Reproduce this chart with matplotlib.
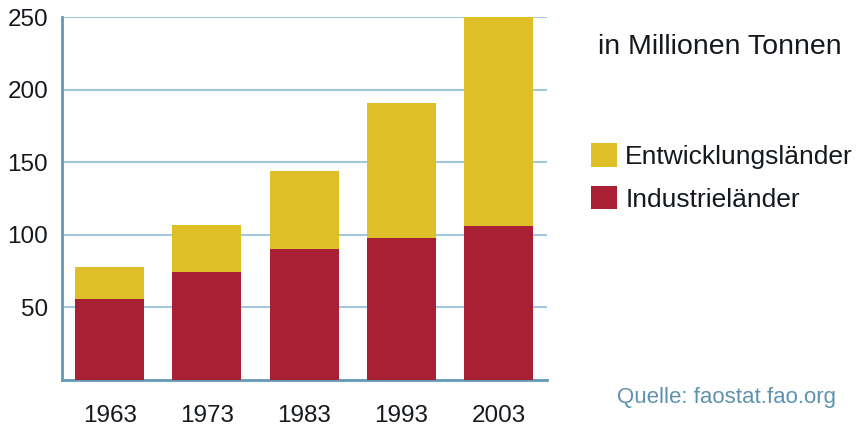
import matplotlib
matplotlib.use("Agg")
import matplotlib.pyplot as plt
import numpy as np

years = ["1963", "1973", "1983", "1993", "2003"]
industrie = [56, 74.5, 90, 98, 106]
gesamt = [78, 107, 144, 190.5, 250]
entwicklung = [g - i for g, i in zip(gesamt, industrie)]
yticks = [50, 100, 150, 200, 250]

RED = "#a92034"
YELLOW = "#dfbf28"
GRID = "#a3c8dc"
SPINE = "#6499b6"
TEXT = "#15191e"

plt.rcParams["font.family"] = ["Liberation Sans", "DejaVu Sans"]

fig = plt.figure(figsize=(8.64, 4.30), dpi=100)
ax = fig.add_axes([62/864, 1-380/430, (547-62)/864, (380-17)/430])

x = np.arange(len(years))
b_ind = ax.bar(x, industrie, width=0.71, color=RED, zorder=3, label="Industrieländer")
b_ent = ax.bar(x, entwicklung, bottom=industrie, width=0.71, color=YELLOW, zorder=3,
               label="Entwicklungsländer")

ax.set_xlim(-0.49, 4.5)
ax.set_ylim(0, 250)
ax.set_yticks(yticks)
ax.set_yticklabels([str(v) for v in yticks])
ax.set_xticks(x)
ax.set_xticklabels(years)
ax.tick_params(axis="both", length=0, labelsize=17.5, colors=TEXT)
ax.tick_params(axis="y", pad=10)
ax.tick_params(axis="x", pad=18)
ax.yaxis.grid(True, color=GRID, linewidth=1.5, zorder=0)
ax.set_axisbelow(True)
for s in ["top", "right"]:
    ax.spines[s].set_visible(False)
for s in ["left", "bottom"]:
    ax.spines[s].set_color(SPINE)
    ax.spines[s].set_linewidth(2)

fig.text(598/864, 1-47/430, "in Millionen Tonnen", fontsize=20.5, color=TEXT,
         ha="left", va="center")

leg = fig.legend(handles=[b_ent, b_ind], labels=["Entwicklungsländer", "Industrieländer"],
                 loc="upper left", bbox_to_anchor=(591/864, 1-143/430),
                 frameon=False, fontsize=19, handlelength=1.0, handleheight=1.0,
                 handletextpad=0.3, labelspacing=0.64, borderpad=0, borderaxespad=0)
for t in leg.get_texts():
    t.set_color(TEXT)

fig.text(617/864, 1-397/430, "Quelle: faostat.fao.org", fontsize=16, color="#5f93ad",
         ha="left", va="center")

fig.savefig("out.png", dpi=100, facecolor="white")
